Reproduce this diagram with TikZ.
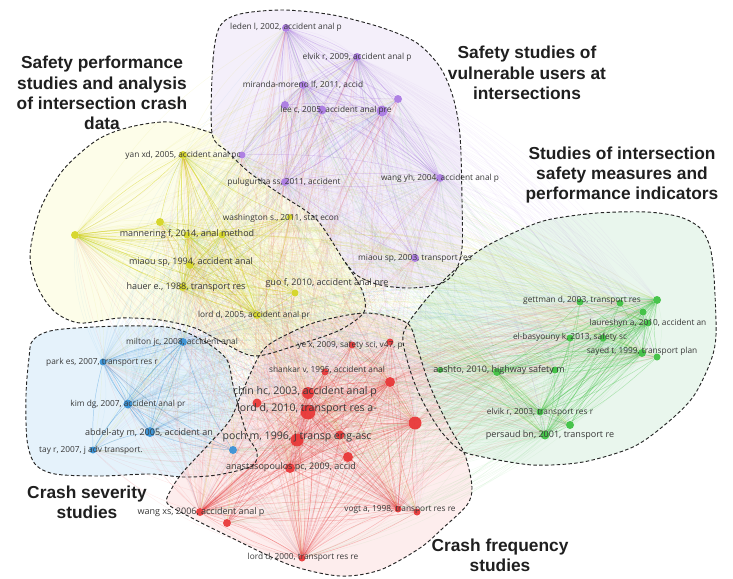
\documentclass[tikz,border=0pt]{standalone}
\usepackage{fontspec}
\setmainfont{Liberation Sans}
\newfontfamily\lblfont{Open Sans}
\usetikzlibrary{calc}

\definecolor{colP}{RGB}{168,118,226}
\definecolor{colY}{RGB}{212,212,28}
\definecolor{colB}{RGB}{48,142,214}
\definecolor{colR}{RGB}{232,48,48}
\definecolor{colG}{RGB}{56,192,60}
\definecolor{fillP}{RGB}{244,239,250}
\definecolor{fillY}{RGB}{253,253,231}
\definecolor{fillB}{RGB}{226,241,251}
\definecolor{fillR}{RGB}{253,234,234}
\definecolor{fillG}{RGB}{231,245,235}

\pgfdeclarelayer{fills}
\pgfdeclarelayer{links}
\pgfsetlayers{fills,links,main}

\tikzset{
  cit/.style={circle, inner sep=0pt, minimum size=#1*0.03cm, fill opacity=0.9},
  citP/.style={cit=#1, fill=colP},
  citY/.style={cit=#1, fill=colY},
  citB/.style={cit=#1, fill=colB},
  citR/.style={cit=#1, fill=colR},
  citG/.style={cit=#1, fill=colG},
  lbl/.style={inner sep=0pt, text=black!78, font=\lblfont\fontsize{7.1}{8}\selectfont},
  lblm/.style={lbl, font=\lblfont\fontsize{7.7}{9}\selectfont},
  lblb/.style={lbl, font=\lblfont\fontsize{9}{10}\selectfont},
  cluster/.style={align=center, text=black!88, font=\bfseries\fontsize{14.8}{17.4}\selectfont},
  hull/.style={draw=black!85, line width=0.8pt, dash pattern=on 3pt off 2pt},
  linkP/.style={draw=colP, line width=0.4pt, draw opacity=#1},
  linkY/.style={draw=colY, line width=0.4pt, draw opacity=#1},
  linkB/.style={draw=colB, line width=0.4pt, draw opacity=#1},
  linkR/.style={draw=colR, line width=0.4pt, draw opacity=#1},
  linkG/.style={draw=colG, line width=0.4pt, draw opacity=#1}
}

\def\citsP{leden,elvikA,miranda,leeA,leeB,leeC,leeD,purpX,pulu,wangyh,miaouA}
\def\citsY{yanxd,yelA,yelB,wash,manA,manB,miaouB,hauer,guoA,lordA}
\def\citsB{milton,park,kim,abdel,tay,pochB}
\def\citsR{yex,yexB,shankar,chin,lordB,lordC,redR1,redR2,poch,redC,anast,redD,wangxs,wangB,vogt,vogtB,lordD}
\def\citsG{gettA,gettB,gettC,gettD,laure,elbA,elbB,sayA,sayB,aashA,aashB,aashC,elvikB,elvikC,persaud}
\def\allcits{leden,elvikA,miranda,leeA,leeB,leeC,leeD,purpX,pulu,wangyh,miaouA,yanxd,yelA,yelB,wash,manA,manB,miaouB,hauer,guoA,lordA,milton,park,kim,abdel,tay,pochB,yex,yexB,shankar,chin,lordB,lordC,redR1,redR2,poch,redC,anast,redD,wangxs,wangB,vogt,vogtB,lordD,gettA,gettB,gettC,gettD,laure,elbA,elbB,sayA,sayB,aashA,aashB,aashC,elvikB,elvikC,persaud}

\begin{document}
\begin{tikzpicture}[x=0.03cm, y=-0.03cm]
	%%%%% START %%%%%
	\useasboundingbox (0,0) rectangle (733,578);
	
	% cluster areas
	\begin{pgfonlayer}{fills}
		\fill[fillP] plot[smooth cycle, tension=0.5] coordinates {(212,133) (213,60) (220,26) (240,14) (283,10) (333,15) (383,28) (417,43) (440,67) (453,97) (460,135) (462,200) (462,248) (455,272) (440,284) (410,288) (380,285) (358,276) (345,262) (317,220) (283,196) (250,173) (228,152)};
		\fill[fillY, fill opacity=0.9] plot[smooth cycle, tension=0.5] coordinates {(212,133) (170,122) (130,127) (97,140) (63,170) (40,210) (30,255) (38,288) (55,312) (80,323) (120,318) (160,320) (195,328) (222,342) (255,356) (300,344) (340,330) (364,312) (362,290) (345,262) (317,220) (283,196) (250,173) (228,152)};
		\fill[fillG, fill opacity=0.9] plot[smooth cycle, tension=0.5] coordinates {(403,335) (420,307) (447,277) (480,250) (513,233) (547,220) (597,213) (647,212) (680,217) (700,228) (710,247) (714,277) (716,335) (710,363) (693,397) (667,423) (633,447) (583,462) (533,465) (483,457) (460,450) (440,430) (422,400) (410,370)};
		\fill[fillB, fill opacity=0.9] plot[smooth cycle, tension=0.5] coordinates {(33,340) (55,330) (120,326) (173,328) (207,343) (227,360) (233,385) (240,412) (248,437) (257,452) (252,466) (217,475) (183,477) (150,474) (100,476) (55,474) (35,464) (27,440) (26,395) (29,358)};
		\fill[fillR, fill opacity=0.85] plot[smooth cycle, tension=0.5] coordinates {(263,350) (290,333) (320,321) (367,313) (407,323) (417,347) (427,378) (437,402) (450,428) (465,455) (472,487) (467,505) (443,528) (420,548) (380,570) (340,576) (290,565) (230,537) (190,517) (167,503) (172,488) (183,472) (208,445) (230,420) (243,390)};
	\end{pgfonlayer}
	
	% purple cluster
	\node[citP=8] (leden) at (286,28) {};
	\node[citP=8] (elvikA) at (357,57) {};
	\node[citP=8] (miranda) at (303,85) {};
	\node[citP=8] (leeA) at (285,105) {};
	\node[citP=9] (leeB) at (322,110) {};
	\node[citP=11] (leeC) at (382,111) {};
	\node[citP=8] (leeD) at (398,99) {};
	\node[citP=7] (purpX) at (242,155) {};
	\node[citP=8] (pulu) at (285,182) {};
	\node[citP=8] (wangyh) at (440,178) {};
	\node[citP=8] (miaouA) at (415,258) {};
	
	% yellow cluster
	\node[citY=8] (yanxd) at (183,155) {};
	\node[citY=8] (yelA) at (75,235) {};
	\node[citY=8] (yelB) at (160,222) {};
	\node[citY=6] (wash) at (290,217) {};
	\node[citY=7] (manA) at (187,235) {};
	\node[citY=7] (manB) at (222,235) {};
	\node[citY=8] (miaouB) at (190,265) {};
	\node[citY=8] (hauer) at (183,287) {};
	\node[citY=7] (guoA) at (295,293) {};
	\node[citY=8] (lordA) at (257,315) {};
	
	% blue cluster
	\node[citB=8] (milton) at (183,342) {};
	\node[citB=7] (park) at (103,362) {};
	\node[citB=9] (kim) at (128,404) {};
	\node[citB=10] (abdel) at (150,432) {};
	\node[citB=7] (tay) at (93,450) {};
	\node[citB=8] (pochB) at (233,450) {};
	
	% red cluster
	\node[citR=7] (yex) at (352,345) {};
	\node[citR=7] (yexB) at (390,342) {};
	\node[citR=7] (shankar) at (325,372) {};
	\node[citR=12] (chin) at (308,393) {};
	\node[citR=15] (lordB) at (308,412) {};
	\node[citR=9] (lordC) at (257,403) {};
	\node[citR=10] (redR1) at (390,382) {};
	\node[citR=13] (redR2) at (415,423) {};
	\node[citR=13] (poch) at (297,440) {};
	\node[citR=9] (redC) at (340,435) {};
	\node[citR=10] (anast) at (290,468) {};
	\node[citR=10] (redD) at (348,457) {};
	\node[citR=8] (wangxs) at (200,512) {};
	\node[citR=8] (wangB) at (227,523) {};
	\node[citR=7] (vogt) at (398,509) {};
	\node[citR=7] (vogtB) at (417,512) {};
	\node[citR=7] (lordD) at (302,558) {};
	
	% green cluster
	\node[citG=7] (gettA) at (580,302) {};
	\node[citG=7] (gettB) at (620,303) {};
	\node[citG=8] (gettC) at (657,300) {};
	\node[citG=7] (gettD) at (643,312) {};
	\node[citG=7] (laure) at (648,323) {};
	\node[citG=7] (elbA) at (570,338) {};
	\node[citG=7] (elbB) at (603,338) {};
	\node[citG=8] (sayA) at (642,353) {};
	\node[citG=7] (sayB) at (657,357) {};
	\node[citG=6] (aashA) at (440,370) {};
	\node[citG=8] (aashB) at (497,372) {};
	\node[citG=7] (aashC) at (555,370) {};
	\node[citG=7] (elvikB) at (540,412) {};
	\node[citG=8] (elvikC) at (570,425) {};
	\node[citG=9] (persaud) at (545,435) {};
	
	% citation links
	\begin{pgfonlayer}{links}
		\foreach \s in {leden,elvikA,leeC,miranda,wangyh,pulu} {
			\foreach \t in \allcits {\ifx\s\t\else \draw[linkP=0.07] (\s) to[bend left=15] (\t);\fi}
			\foreach \t in \citsP {\ifx\s\t\else \draw[linkP=0.35] (\s) to[bend right=8] (\t);\fi}
		}
		\foreach \s in {yelA,yanxd,manA,manB,miaouB,hauer,lordA} {
			\foreach \t in \allcits {\ifx\s\t\else \draw[linkY=0.1] (\s) to[bend left=15] (\t);\fi}
			\foreach \t in \citsY {\ifx\s\t\else \draw[linkY=0.5] (\s) to[bend right=8] (\t);\fi}
		}
		\foreach \s in {abdel,kim,park,milton} {
			\foreach \t in \allcits {\ifx\s\t\else \draw[linkB=0.07] (\s) to[bend left=15] (\t);\fi}
			\foreach \t in \citsB {\ifx\s\t\else \draw[linkB=0.4] (\s) to[bend right=8] (\t);\fi}
		}
		\foreach \s in {lordB,poch,chin,anast,redR2,wangxs,vogt,lordD,redR1} {
			\foreach \t in \allcits {\ifx\s\t\else \draw[linkR=0.09] (\s) to[bend left=15] (\t);\fi}
			\foreach \t in \citsR {\ifx\s\t\else \draw[linkR=0.3] (\s) to[bend right=8] (\t);\fi}
		}
		\foreach \s in {gettC,sayA,aashB,persaud,elvikB,laure} {
			\foreach \t in \allcits {\ifx\s\t\else \draw[linkG=0.07] (\s) to[bend left=15] (\t);\fi}
			\foreach \t in \citsG {\ifx\s\t\else \draw[linkG=0.35] (\s) to[bend right=8] (\t);\fi}
		}
	\end{pgfonlayer}
	
	% labels
	\node[lbl] (leden-t) at (286,27) {leden l, 2002, accident anal p};
	\node[lbl] (elvikA-t) at (357,57) {elvik r, 2009, accident anal p};
	\node[lbl] (miranda-t) at (303,85) {miranda-moreno lf, 2011, accid};
	\node[lbl] (lee-t) at (336,110) {lee c, 2005, accident anal pre};
	\node[lbl] (pulu-t) at (284,182) {pulugurtha ss, 2011, accident};
	\node[lbl] (wangyh-t) at (440,178) {wang yh, 2004, accident anal p};
	\node[lbl] (miaouA-t) at (415,258) {miaou sp, 2003, transport res};
	\node[lbl] (yanxd-t) at (183,155) {yan xd, 2005, accident anal pc};
	\node[lbl] (wash-t) at (281,218) {washington s., 2011, stat econ};
	\node[lblm] (man-t) at (187,234) {mannering f, 2014, anal method};
	\node[lblm] (miaouB-t) at (191,262) {miaou sp, 1994, accident anal};
	\node[lblm] (hauer-t) at (186,287) {hauer e., 1988, transport res};
	\node[lblm] (guo-t) at (327,283) {guo f, 2010, accident anal pre};
	\node[lbl] (lordA-t) at (254,315) {lord d, 2005, accident anal pr};
	\node[lbl] (milton-t) at (182,342) {milton jc, 2008, accident anal};
	\node[lbl] (park-t) at (102,362) {park es, 2007, transport res r};
	\node[lbl] (kim-t) at (128,404) {kim dg, 2007, accident anal pr};
	\node[lblm] (abdel-t) at (149,433) {abdel-aty m, 2005, accident an};
	\node[lbl] (tay-t) at (91,450) {tay r, 2007, j adv transport.};
	\node[lbl] (yex-t) at (350,345) {ye x, 2009, safety sci, v47, p};
	\node[lbl] (shankar-t) at (327,370) {shankar v, 1995, accident anal};
	\node[lblb] (chin-t) at (305,392) {chin hc, 2003, accident anal p};
	\node[lblb] (lordB-t) at (307,409) {lord d, 2010, transport res a-};
	\node[lblb] (poch-t) at (297,437) {poch m, 1996, j transp eng-asc};
	\node[lblm] (anast-t) at (291,467) {anastasopoulos pc, 2009, accid};
	\node[lblm] (wangxs-t) at (201,512) {wang xs, 2006, accident anal p};
	\node[lbl] (vogt-t) at (400,509) {vogt a, 1998, transport res re};
	\node[lbl] (lordD-t) at (303,557) {lord d, 2000, transport res re};
	\node[lbl] (gett-t) at (582,300) {gettman d, 2003, transport res};
	\node[lbl] (laure-t) at (648,323) {laureshyn a, 2010, accident an};
	\node[lbl] (elb-t) at (570,337) {el-basyouny k, 2013, safety sc};
	\node[lbl] (say-t) at (642,351) {sayed t, 1999, transport plan};
	\node[lblm] (aash-t) at (499,370) {aashto, 2010, highway safety m};
	\node[lbl] (elvikB-t) at (540,412) {elvik r, 2003, transport res r};
	\node[lblm] (persaud-t) at (550,435) {persaud bn, 2001, transport re};
	
	% cluster borders
	\draw[hull] plot[smooth cycle, tension=0.5] coordinates {(212,133) (213,60) (220,26) (240,14) (283,10) (333,15) (383,28) (417,43) (440,67) (453,97) (460,135) (462,200) (462,248) (455,272) (440,284) (410,288) (380,285) (358,276) (345,262) (317,220) (283,196) (250,173) (228,152)};
	\draw[hull] plot[smooth, tension=0.5] coordinates {(212,133) (170,122) (130,127) (97,140) (63,170) (40,210) (30,255) (38,288) (55,312) (80,323) (120,318) (160,320) (195,328) (222,342) (255,356) (300,344) (340,330) (364,312) (362,290) (345,262)};
	\draw[hull] plot[smooth cycle, tension=0.5] coordinates {(403,335) (420,307) (447,277) (480,250) (513,233) (547,220) (597,213) (647,212) (680,217) (700,228) (710,247) (714,277) (716,335) (710,363) (693,397) (667,423) (633,447) (583,462) (533,465) (483,457) (460,450) (440,430) (422,400) (410,370)};
	\draw[hull] plot[smooth cycle, tension=0.5] coordinates {(33,340) (55,330) (120,326) (173,328) (207,343) (227,360) (233,385) (240,412) (248,437) (257,452) (252,466) (217,475) (183,477) (150,474) (100,476) (55,474) (35,464) (27,440) (26,395) (29,358)};
	\draw[hull] plot[smooth cycle, tension=0.5] coordinates {(263,350) (290,333) (320,321) (367,313) (407,323) (417,347) (427,378) (437,402) (450,428) (465,455) (472,487) (467,505) (443,528) (420,548) (380,570) (340,576) (290,565) (230,537) (190,517) (167,503) (172,488) (183,472) (208,445) (230,420) (243,390)};
	
	% cluster names
	\node[cluster] (perf) at (102,93) {Safety performance\\studies and analysis\\of intersection crash\\data};
	\node[cluster] (vuln) at (527,73) {Safety studies of\\vulnerable users at\\intersections};
	\node[cluster] (meas) at (622,175) {Studies of intersection\\safety measures and\\performance indicators};
	\node[cluster] (sev) at (87,502) {Crash severity\\studies};
	\node[cluster] (freq) at (500,555) {Crash frequency\\studies};
	%%%%% END %%%%%
\end{tikzpicture}
\end{document}
